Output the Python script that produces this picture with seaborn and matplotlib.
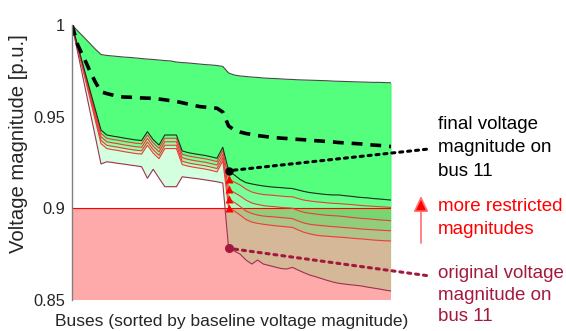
import numpy as np
import matplotlib
matplotlib.use('Agg')
import matplotlib.pyplot as plt
import seaborn as sns

# buses sorted by baseline voltage magnitude (rank along the x axis)
bus = np.arange(1, 57)
bus11 = 27  # position of bus 11 in the sorted order (array index)

# upper envelope of the green band
top = [1.0, 0.9967, 0.9935, 0.9902, 0.9869, 0.9839, 0.9834, 0.9831, 0.9828, 0.9825,
       0.9823, 0.9820, 0.9817, 0.9814, 0.9812, 0.9809, 0.9806, 0.9804, 0.9798, 0.9795,
       0.9793, 0.9790, 0.9787, 0.9784, 0.9782, 0.9779, 0.9774, 0.9738, 0.9727, 0.9722,
       0.9719, 0.9716, 0.9714, 0.9711, 0.9709, 0.9708, 0.9706, 0.9704, 0.9703, 0.9701,
       0.9700, 0.9699, 0.9698, 0.9697, 0.9696, 0.9694, 0.9693, 0.9692, 0.9691, 0.9690,
       0.9689, 0.9688, 0.9687, 0.9687, 0.9686, 0.9685]

# dashed curve inside the band
median = [1.0, 0.9890, 0.9825, 0.9755, 0.9690, 0.9636, 0.9626, 0.9618, 0.9610, 0.9607,
          0.9606, 0.9604, 0.9602, 0.9601, 0.9600, 0.9596, 0.9592, 0.9587, 0.9583, 0.9576,
          0.9569, 0.9562, 0.9555, 0.9552, 0.9548, 0.9546, 0.9525, 0.9449, 0.9427, 0.9416,
          0.9408, 0.9403, 0.9397, 0.9393, 0.9389, 0.9386, 0.9383, 0.9381, 0.9378, 0.9376,
          0.9374, 0.9371, 0.9369, 0.9367, 0.9364, 0.9362, 0.9359, 0.9357, 0.9355, 0.9353,
          0.9351, 0.9348, 0.9345, 0.9343, 0.9340, 0.9337]

# final voltage magnitudes (lower edge of the bright green band)
final = [1.0, 0.9885, 0.9771, 0.9656, 0.9542, 0.9427, 0.9400, 0.9394, 0.9389, 0.9383,
         0.9378, 0.9373, 0.9370, 0.9418, 0.9375, 0.9345, 0.9400, 0.9400, 0.9400, 0.9313,
         0.9304, 0.9298, 0.9293, 0.9288, 0.9281, 0.9273, 0.9333, 0.9205, 0.9182, 0.9157,
         0.9140, 0.9133, 0.9127, 0.9122, 0.9118, 0.9115, 0.9113, 0.9110, 0.9108, 0.9100,
         0.9092, 0.9086, 0.9082, 0.9078, 0.9075, 0.9073, 0.9073, 0.9069, 0.9066, 0.9062,
         0.9059, 0.9057, 0.9053, 0.9051, 0.9048, 0.9045]

# intermediate (more restricted) iterations, from most to least restricted
r1 = [1.0, 0.9882, 0.9764, 0.9645, 0.9527, 0.9409, 0.9382, 0.9376, 0.9371, 0.9365,
      0.9360, 0.9355, 0.9352, 0.9400, 0.9357, 0.9327, 0.9382, 0.9382, 0.9382, 0.9295,
      0.9286, 0.9280, 0.9275, 0.9270, 0.9263, 0.9255, 0.9315, 0.9158, 0.9143, 0.9127,
      0.9105, 0.9089, 0.9081, 0.9075, 0.9073, 0.9070, 0.9067, 0.9064, 0.9063, 0.9053,
      0.9045, 0.9040, 0.9036, 0.9033, 0.9030, 0.9027, 0.9026, 0.9023, 0.9021, 0.9018,
      0.9015, 0.9013, 0.9011, 0.9009, 0.9007, 0.9005]
r2 = [1.0, 0.9878, 0.9756, 0.9634, 0.9512, 0.9390, 0.9363, 0.9357, 0.9352, 0.9346,
      0.9341, 0.9336, 0.9333, 0.9381, 0.9338, 0.9308, 0.9363, 0.9363, 0.9363, 0.9276,
      0.9267, 0.9261, 0.9256, 0.9251, 0.9244, 0.9236, 0.9296, 0.9103, 0.9086, 0.9067,
      0.9045, 0.9029, 0.9021, 0.9015, 0.9011, 0.9009, 0.9005, 0.9003, 0.9001, 0.8988,
      0.8978, 0.8973, 0.8969, 0.8965, 0.8962, 0.8960, 0.8958, 0.8955, 0.8951, 0.8948,
      0.8945, 0.8943, 0.8940, 0.8937, 0.8935, 0.8932]
r3 = [1.0, 0.9874, 0.9748, 0.9623, 0.9497, 0.9371, 0.9344, 0.9338, 0.9333, 0.9327,
      0.9322, 0.9317, 0.9314, 0.9362, 0.9319, 0.9289, 0.9344, 0.9344, 0.9344, 0.9257,
      0.9248, 0.9242, 0.9237, 0.9232, 0.9225, 0.9217, 0.9277, 0.9052, 0.9032, 0.9010,
      0.8985, 0.8972, 0.8963, 0.8958, 0.8955, 0.8953, 0.8950, 0.8947, 0.8944, 0.8931,
      0.8920, 0.8913, 0.8909, 0.8906, 0.8903, 0.8900, 0.8898, 0.8895, 0.8893, 0.8890,
      0.8887, 0.8885, 0.8883, 0.8881, 0.8879, 0.8878]
r4 = [1.0, 0.9871, 0.9741, 0.9612, 0.9482, 0.9353, 0.9326, 0.9320, 0.9315, 0.9309,
      0.9304, 0.9299, 0.9296, 0.9344, 0.9301, 0.9271, 0.9326, 0.9326, 0.9326, 0.9239,
      0.9230, 0.9224, 0.9219, 0.9214, 0.9207, 0.9199, 0.9259, 0.9004, 0.8985, 0.8963,
      0.8939, 0.8925, 0.8918, 0.8913, 0.8909, 0.8905, 0.8902, 0.8899, 0.8896, 0.8882,
      0.8869, 0.8861, 0.8854, 0.8850, 0.8848, 0.8845, 0.8843, 0.8841, 0.8838, 0.8835,
      0.8833, 0.8830, 0.8827, 0.8825, 0.8823, 0.8822]

# original voltage magnitudes
original = [1.0, 0.9848, 0.9697, 0.9545, 0.9394, 0.9242, 0.9254, 0.9250, 0.9245, 0.9241,
            0.9236, 0.9232, 0.9227, 0.9164, 0.9213, 0.9165, 0.9118, 0.9118, 0.9118, 0.9172,
            0.9168, 0.9164, 0.9160, 0.9155, 0.9150, 0.9145, 0.9138, 0.8782, 0.8767, 0.8750,
            0.8718, 0.8696, 0.8718, 0.8696, 0.8688, 0.8680, 0.8672, 0.8669, 0.8678, 0.8663,
            0.8649, 0.8636, 0.8627, 0.8617, 0.8607, 0.8598, 0.8591, 0.8587, 0.8583, 0.8580,
            0.8576, 0.8570, 0.8565, 0.8560, 0.8554, 0.8549]

v_min, v_lim, v_max = 0.85, 0.9, 1.0
yticks = [0.85, 0.9, 0.95, 1.0]
ytick_labels = ['0.85', '0.9', '0.95', '1']

sns.set_style('white')
plt.rcParams['font.family'] = ['Liberation Sans', 'DejaVu Sans']

fig = plt.figure(figsize=(5.66, 3.31), dpi=100)
ax = fig.add_axes([72 / 566, 31 / 331, 319 / 566, 275 / 331])

# violation zone below the lower voltage limit
ax.fill_between(bus, v_min, v_lim, facecolor='#ffaaaa', lw=0, zorder=1)
ax.vlines(bus[-1], v_min, v_lim, color='#ff7a7a', lw=0.8, zorder=4)

# stacked translucent green bands
restricted = [r1, r2, r3, r4]
for curve in [original, r4, r3, r2, r1, final]:
    ax.fill_between(bus, curve, top, color='#00ff40', alpha=0.17, lw=0, zorder=2)

ax.axhline(v_lim, color='red', lw=0.8, zorder=4)

sns.lineplot(x=bus, y=top, color='#4a4a4a', lw=0.8, ax=ax, zorder=5)
ax.vlines(bus[-1], final[-1], top[-1], color='#4a4a4a', lw=0.8, zorder=5)
for r in restricted:
    sns.lineplot(x=bus, y=r, color='#f03a3a', lw=0.8, ax=ax, zorder=5)
sns.lineplot(x=bus, y=original, color='#a0304f', lw=0.8, ax=ax, zorder=5)
sns.lineplot(x=bus, y=final, color='#1c2b1c', lw=0.8, ax=ax, zorder=5)
sns.lineplot(x=bus, y=median, color='black', lw=2.6, linestyle=(0, (3, 2.2)), ax=ax, zorder=6)

# bus 11 markers
for r in restricted:
    ax.plot(bus[bus11], r[bus11], '^', color='red', ms=6, mec='none', zorder=7)
ax.plot(bus[bus11], final[bus11], 'o', color='black', ms=5, zorder=7)
ax.plot(bus[bus11], original[bus11], 'o', color='#a3193d', ms=5.5, zorder=7)

dotted = (0, (1, 1.6))
ax.annotate('final voltage\nmagnitude on\nbus 11', xy=(bus[bus11], final[bus11]),
            xytext=(438, 183), textcoords='figure pixels', ha='left', va='center',
            fontsize=13.5, linespacing=1.5, color='black', annotation_clip=False,
            arrowprops=dict(arrowstyle='-', color='black', lw=2.2, linestyle=dotted,
                            shrinkA=6, shrinkB=0, relpos=(0, 0.5)))
ax.annotate('original voltage\nmagnitude on\nbus 11', xy=(bus[bus11], original[bus11]),
            xytext=(438, 36), textcoords='figure pixels', ha='left', va='center',
            fontsize=13.5, linespacing=1.33, color='#a3193d', annotation_clip=False,
            arrowprops=dict(arrowstyle='-', color='#a3193d', lw=2.2, linestyle=dotted,
                            shrinkA=6, shrinkB=0, relpos=(0, 0.8)))

ax.annotate('', xy=(421, 135), xytext=(421, 88), xycoords='figure pixels',
            textcoords='figure pixels', annotation_clip=False,
            arrowprops=dict(arrowstyle='-|>,head_length=0.95,head_width=0.45',
                            fc='red', ec='#ff7070', lw=1.2, shrinkA=0, shrinkB=0))
fig.text(438, 113, 'more restricted\nmagnitudes', transform=None, ha='left', va='center',
         fontsize=13.5, linespacing=1.45, color='red')

ax.set_xlim(bus[0], bus[-1])
ax.set_ylim(v_min, v_max)
ax.set_xticks([])
ax.set_yticks(yticks)
ax.set_yticklabels(ytick_labels)
ax.tick_params(axis='y', length=0, pad=5, labelsize=11.8, colors='#262626')
ax.set_xlabel('Buses (sorted by baseline voltage magnitude)', fontsize=12.5, labelpad=10, color='#262626')
ax.set_ylabel('Voltage magnitude [p.u.]', fontsize=14.6, color='#262626')
ax.yaxis.set_label_coords(-0.137, 0.57)
for side in ['top', 'right', 'bottom']:
    ax.spines[side].set_visible(False)
ax.spines['left'].set_color('#808080')
ax.spines['left'].set_linewidth(1.0)
ax.spines['left'].set_zorder(8)
ax.set_facecolor('none')

fig.savefig('out.png', dpi=100)
